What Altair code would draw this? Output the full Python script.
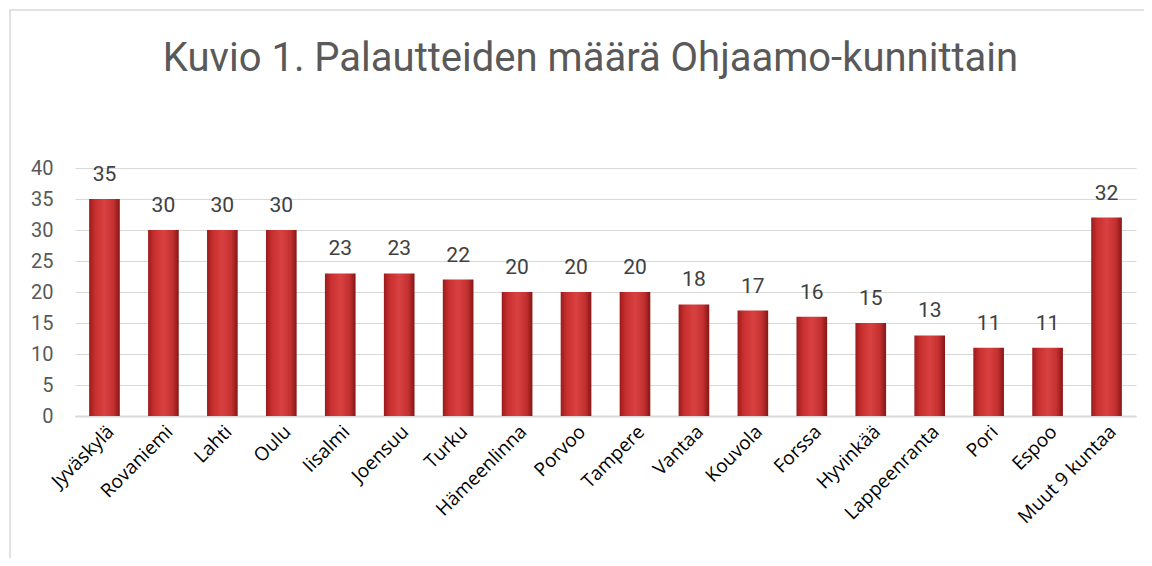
import altair as alt
import pandas as pd

categories = ["Jyväskylä", "Rovaniemi", "Lahti", "Oulu", "Iisalmi", "Joensuu", "Turku",
              "Hämeenlinna", "Porvoo", "Tampere", "Vantaa", "Kouvola", "Forssa", "Hyvinkää",
              "Lappeenranta", "Pori", "Espoo", "Muut 9 kuntaa"]
values = [35, 30, 30, 30, 23, 23, 22, 20, 20, 20, 18, 17, 16, 15, 13, 11, 11, 32]
y_ticks = [0, 5, 10, 15, 20, 25, 30, 35, 40]

df = pd.DataFrame({"kunta": categories, "maara": values})

W, H = 1061, 248

x_enc = alt.X("kunta:N", sort=categories, title=None,
              scale=alt.Scale(paddingInner=0.48, paddingOuter=0.24),
              axis=alt.Axis(labelAngle=-45, labelFont="Open Sans", labelFontSize=19,
                            labelColor="#000000", ticks=False, domainColor="#d9d9d9",
                            domainWidth=2, labelPadding=6, labelLimit=250))
y_enc = alt.Y("maara:Q", title=None,
              scale=alt.Scale(domain=[0, 40], nice=False),
              axis=alt.Axis(values=y_ticks, tickCount=len(y_ticks) + 2, domain=False,
                            ticks=False, labelFont="Roboto", labelFontSize=20,
                            labelColor="#595959", labelPadding=22, labelOverlap=False,
                            gridColor="#d9d9d9", gridWidth=1.2))

gradient = alt.Gradient(
    gradient="linear", x1=0, x2=1, y1=0, y2=0,
    stops=[alt.GradientStop(color="#9c1b1b", offset=0),
           alt.GradientStop(color="#c83030", offset=0.2),
           alt.GradientStop(color="#d94141", offset=0.5),
           alt.GradientStop(color="#c23030", offset=0.8),
           alt.GradientStop(color="#861616", offset=1)])

bars = alt.Chart(df).mark_bar(color=gradient).encode(x=x_enc, y=y_enc)

labels = alt.Chart(df).mark_text(baseline="bottom", dy=-14, font="Roboto", fontSize=21,
                                 color="#404040").encode(
    x=x_enc,
    y=y_enc,
    text=alt.Text("maara:Q"))

frame = alt.Chart(pd.DataFrame({"a": [0]})).mark_rect(
    fill=None, stroke="#d9d9d9", strokeWidth=1.5, clip=False).encode(
    x=alt.value(-65), x2=alt.value(W + 60), y=alt.value(-158), y2=alt.value(H + 200))

chart = alt.layer(frame, bars, labels).properties(
    width=W, height=H,
    background="white",
    title=alt.TitleParams("Kuvio 1. Palautteiden määrä Ohjaamo-kunnittain",
                          font="Roboto", fontSize=40, fontWeight="normal",
                          color="#595959", anchor="middle", dx=-15, offset=-70),
    autosize=alt.AutoSizeParams(type="none"),
    padding={"left": 67, "top": 160, "right": 8, "bottom": 142},
).configure_view(stroke=None)

chart.save("out.html", embed_options={"renderer": "svg", "actions": False})
